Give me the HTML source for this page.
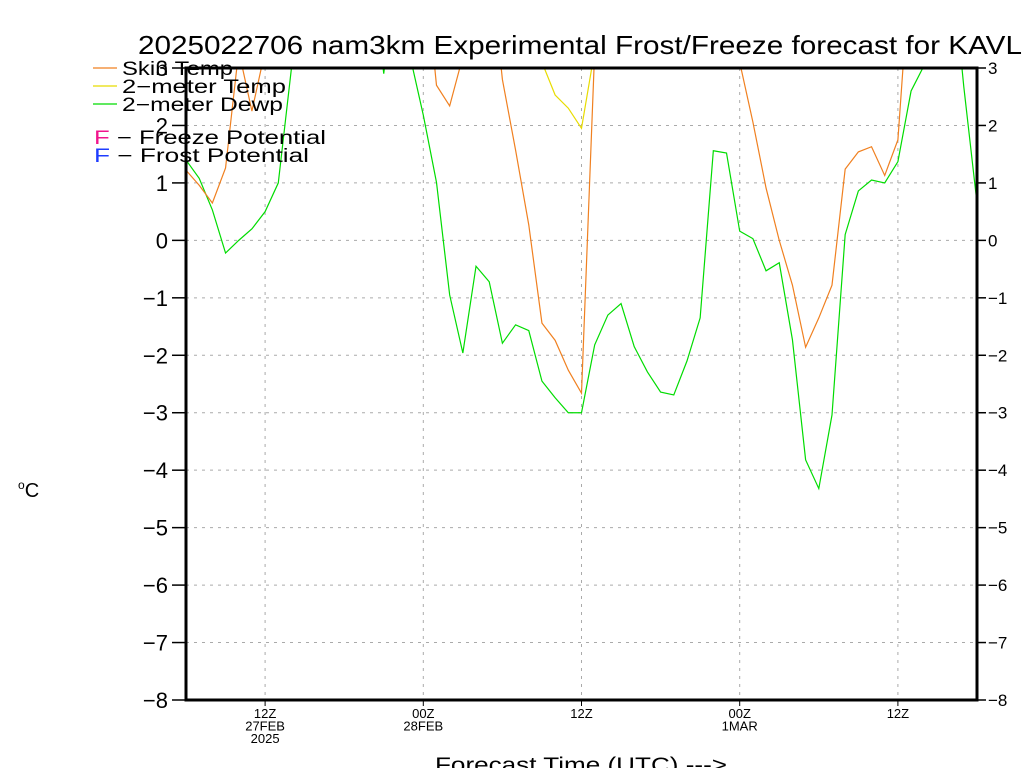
<!DOCTYPE html>
<html><head><meta charset="utf-8"><style>
body{margin:0;background:#fff}
svg{display:block;font-family:"Liberation Sans",sans-serif}
</style></head><body>
<svg id="chart" width="1024" height="768" viewBox="0 0 1024 768">
<defs><clipPath id="plotclip"><rect x="186" y="68" width="791" height="632"/></clipPath></defs>
<text x="138" y="54" font-size="26" textLength="884" lengthAdjust="spacingAndGlyphs">2025022706 nam3km Experimental Frost/Freeze forecast for KAVL</text>
<g id="grid"></g>
<g id="series" clip-path="url(#plotclip)"></g>
<g id="axes"></g>
<text x="18" y="497" font-size="20"><tspan font-size="12" dy="-8">o</tspan><tspan dy="8">C</tspan></text>
<text x="435" y="772" font-size="21" textLength="292" lengthAdjust="spacingAndGlyphs">Forecast Time (UTC) ---&gt;</text>
<g>
<line x1="93" y1="68" x2="117" y2="68" stroke="#f08020" stroke-width="1.3"/>
<text x="122" y="75" font-size="19" textLength="111" lengthAdjust="spacingAndGlyphs">Skin Temp</text>
<line x1="93" y1="86" x2="117" y2="86" stroke="#e8dc00" stroke-width="1.3"/>
<text x="122" y="93" font-size="19" textLength="164" lengthAdjust="spacingAndGlyphs">2−meter Temp</text>
<line x1="93" y1="104" x2="117" y2="104" stroke="#00dc00" stroke-width="1.3"/>
<text x="122" y="111" font-size="19" textLength="161" lengthAdjust="spacingAndGlyphs">2−meter Dewp</text>
<text x="94" y="144" font-size="19" textLength="232" lengthAdjust="spacingAndGlyphs"><tspan fill="#f0148c">F</tspan>  −  Freeze Potential</text>
<text x="94" y="162" font-size="19" textLength="215" lengthAdjust="spacingAndGlyphs"><tspan fill="#1e3cff">F</tspan>  −  Frost Potential</text>
</g>
</svg>
<script>
const yTicks=[3,2,1,0,-1,-2,-3,-4,-5,-6,-7,-8];
const xTickHours=[6,18,30,42,54];
const xTickLabels=[["12Z","27FEB","2025"],["00Z","28FEB"],["12Z"],["00Z","1MAR"],["12Z"]];
const skinTemp=[1.22,0.96,0.65,1.26,3.3,2.25,3.3,5,5,5,5,5,5,5,5,5,5,5,5,2.7,2.34,3.2,5,5,2.8,1.57,0.27,-1.44,-1.74,-2.26,-2.66,3.3,5,5,5,5,5,5,5,5,5,5,3.1,2.06,0.91,0.0,-0.78,-1.86,-1.35,-0.78,1.24,1.54,1.63,1.13,1.75,5,5,5,5,5,5];
const temp2m=[5,5,5,5,5,5,5,5,5,5,5,5,5,5,5,5,5,5,5,5,5,5,5,5,5,5,5,3.1,2.53,2.3,1.95,3.3,5,5,5,5,5,5,5,5,5,5,5,5,5,5,5,5,5,5,5,5,5,5,5,5,5,5,5,5,5];
const dewp2m=[1.4,1.08,0.53,-0.22,0.0,0.2,0.5,1.0,3.0,5,5,5,5,5,5,2.9,5,3.2,2.18,1.01,-0.95,-1.96,-0.45,-0.72,-1.79,-1.47,-1.57,-2.45,-2.74,-3.0,-3.0,-1.82,-1.3,-1.1,-1.85,-2.29,-2.64,-2.69,-2.1,-1.35,1.56,1.52,0.16,0.03,-0.53,-0.39,-1.73,-3.82,-4.32,-3.04,0.1,0.86,1.05,1.0,1.37,2.6,3.05,5,5,2.67,0.65];
const X0=186,X1=977,Y0=68,Y1=700;
function xs(h){return X0+(X1-X0)*h/60;}
function ys(v){return Y0+(Y1-Y0)*(3-v)/11;}
const NS="http://www.w3.org/2000/svg";
function mk(tag,attrs,parent){const e=document.createElementNS(NS,tag);for(const k in attrs)e.setAttribute(k,attrs[k]);parent.appendChild(e);return e;}
const grid=document.getElementById('grid'),axes=document.getElementById('axes'),ser=document.getElementById('series');
yTicks.forEach(v=>{
 const y=ys(v);
 if(v<3&&v>-8){const g=mk('line',{x1:X0,x2:X1,y1:y,y2:y,stroke:'#aaa','stroke-dasharray':'3,5','stroke-width':1},grid);
 
 }
 const t1=mk('line',{x1:172,x2:X0,y1:y,y2:y,stroke:'#000','stroke-width':1.5},axes);
 
 
 const t2=mk('line',{x1:X1,x2:986,y1:y,y2:y,stroke:'#000','stroke-width':1.5},axes);
 
 
 const lab=v<0?'−'+(-v):String(v);
 const l1=mk('text',{x:168,y:y+8,'font-size':22,'text-anchor':'end'},axes);l1.textContent=lab;
 
 
 const l2=mk('text',{x:988,y:y+6,'font-size':17},axes);l2.textContent=lab;
 
 
});
xTickHours.forEach((h,i)=>{
 const x=xs(h);
 const g=mk('line',{x1:x,x2:x,y1:Y0,y2:Y1,stroke:'#aaa','stroke-dasharray':'3,5','stroke-width':1},grid);
 
 
 const t=mk('line',{x1:x,x2:x,y1:Y1,y2:Y1+6,stroke:'#000','stroke-width':1},axes);
 
 
 xTickLabels[i].forEach((s,j)=>{
  const l=mk('text',{x:x,y:718+j*12.5,'font-size':13,'text-anchor':'middle'},axes);l.textContent=s;
  
  
 });
});
const frame=mk('rect',{x:X0,y:Y0,width:X1-X0,height:Y1-Y0,fill:'none',stroke:'#000','stroke-width':3},axes);


function line(arr,color,name){
 const p=mk('polyline',{points:arr.map((v,i)=>xs(i)+','+ys(v)).join(' '),fill:'none',stroke:color,'stroke-width':1.2},ser);
 
 
}
line(temp2m,'#e8dc00','line-2m-temp');
line(dewp2m,'#00dc00','line-2m-dewp');
line(skinTemp,'#f08020','line-skin-temp');
</script>
</body></html>
